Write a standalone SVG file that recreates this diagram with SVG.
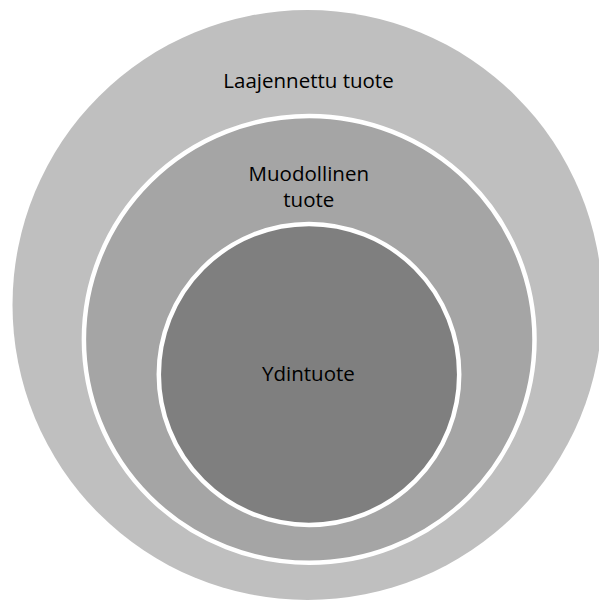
<svg xmlns="http://www.w3.org/2000/svg" width="599" height="604" viewBox="0 0 599 604">
<style>
.lbl{font-family:"Open Sans","Liberation Sans",sans-serif;font-size:20.5px;fill:#000;text-anchor:middle}
.ring{stroke:#fff;stroke-width:4.5}
</style>
<rect width="599" height="604" fill="#fff"/>
<g id="laajennettu">
<ellipse cx="307.5" cy="305" rx="295" ry="295" fill="#bfbfbf"/>
<text class="lbl" x="308.5" y="87.5">Laajennettu tuote</text>
</g>
<g id="muodollinen">
<ellipse class="ring" cx="309.2" cy="339.4" rx="225.3" ry="223.4" fill="#a5a5a5"/>
<text class="lbl" x="308.8" y="180.7">Muodollinen</text>
<text class="lbl" x="308.8" y="206.7">tuote</text>
</g>
<g id="ydintuote">
<ellipse class="ring" cx="309" cy="374.4" rx="150.2" ry="150.5" fill="#7f7f7f"/>
<text class="lbl" x="308.4" y="381.2">Ydintuote</text>
</g>
<g id="connectors"/>
</svg>
